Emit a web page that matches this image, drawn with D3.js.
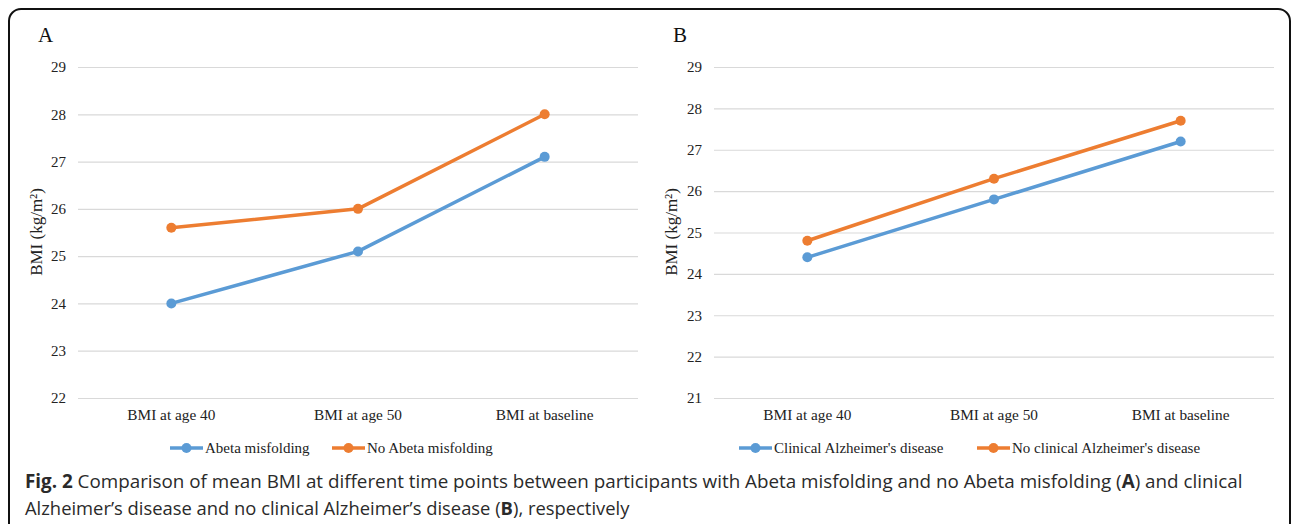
<!DOCTYPE html>
<html>
<head>
<meta charset="utf-8">
<script src="https://cdn.jsdelivr.net/npm/d3@7"></script>
<style>
  html, body { margin: 0; padding: 0; background: #fff; }
  svg { display: block; }
</style>
</head>
<body>
<svg id="chart" width="1292" height="524"></svg>
<script>
// ---- Data ----
const categories = ["BMI at age 40", "BMI at age 50", "BMI at baseline"];

const panelALabel = "A";
const panelASeriesNames = ["Abeta misfolding", "No Abeta misfolding"];
const panelAValues1 = [24.0, 25.1, 27.1];
const panelAValues2 = [25.6, 26.0, 28.0];
const panelATicks = [22, 23, 24, 25, 26, 27, 28, 29];

const panelBLabel = "B";
const panelBSeriesNames = ["Clinical Alzheimer's disease", "No clinical Alzheimer's disease"];
const panelBValues1 = [24.4, 25.8, 27.2];
const panelBValues2 = [24.8, 26.3, 27.7];
const panelBTicks = [21, 22, 23, 24, 25, 26, 27, 28, 29];

const yTitle = "BMI (kg/m²)";
const captionBold = "Fig. 2";
const captionLine1 = " Comparison of mean BMI at different time points between participants with Abeta misfolding and no Abeta misfolding (";
const captionLine1b = ") and clinical";
const captionLine2a = "Alzheimer\u2019s disease and no clinical Alzheimer\u2019s disease (";
const captionLine2b = "), respectively";

const colors = ["#5B9BD5", "#ED7D31"];

// ---- Drawing ----
const svg = d3.select("#chart");
const serif = "'Liberation Serif', 'Times New Roman', serif";

// frame
svg.append("rect")
  .attr("x", 9).attr("y", 9).attr("width", 1281).attr("height", 700)
  .attr("rx", 12).attr("ry", 12)
  .attr("fill", "none").attr("stroke", "#111").attr("stroke-width", 2);

function drawPanel(opts) {
  const g = svg.append("g");
  const x = d3.scaleBand().domain(categories).range([opts.left, opts.left + 560]);
  const y = d3.scaleLinear().domain([opts.ticks[0], opts.ticks[opts.ticks.length - 1]]).range([398, 67]);

  // gridlines via axis
  const yAxis = d3.axisLeft(y).tickValues(opts.ticks).tickSize(-560).tickPadding(12).tickFormat(d3.format("d"));
  const ya = g.append("g").attr("transform", `translate(${opts.left},0)`).call(yAxis);
  ya.select(".domain").remove();
  ya.selectAll(".tick line").attr("stroke", "#d9d9d9").attr("stroke-width", 1.2);
  ya.selectAll(".tick text").attr("font-family", serif).attr("font-size", 15).attr("fill", "#222");

  // x axis labels
  const xAxis = d3.axisBottom(x).tickSize(0).tickPadding(11);
  const xa = g.append("g").attr("transform", `translate(0,398)`).call(xAxis);
  xa.select(".domain").remove();
  xa.selectAll(".tick text").attr("font-family", serif).attr("font-size", 15.3).attr("fill", "#222");

  // panel label
  g.append("text").attr("x", opts.labelX).attr("y", 42)
    .attr("font-family", serif).attr("font-size", 21).attr("fill", "#111").text(opts.label);

  // y title
  g.append("text")
    .attr("transform", `translate(${opts.titleX},232) rotate(-90)`)
    .attr("text-anchor", "middle")
    .attr("font-family", serif).attr("font-size", 17).attr("fill", "#222")
    .text(yTitle);

  const line = d3.line().x((d, i) => x(categories[i]) + x.bandwidth() / 2).y(d => y(d));
  opts.series.forEach((vals, si) => {
    g.append("path").datum(vals).attr("d", line)
      .attr("fill", "none").attr("stroke", colors[si]).attr("stroke-width", 3.5)
      .attr("stroke-linejoin", "round");
    g.selectAll(null).data(vals).enter().append("circle")
      .attr("cx", (d, i) => x(categories[i]) + x.bandwidth() / 2)
      .attr("cy", d => y(d)).attr("r", 5).attr("fill", colors[si]);
  });

  // legend
  opts.names.forEach((name, si) => {
    const lx = opts.legendX[si];
    const ly = 448;
    g.append("line").attr("x1", lx).attr("x2", lx + 33).attr("y1", ly).attr("y2", ly)
      .attr("stroke", colors[si]).attr("stroke-width", 3.5);
    g.append("circle").attr("cx", lx + 16.5).attr("cy", ly).attr("r", 5).attr("fill", colors[si]);
    g.append("text").attr("x", lx + 35).attr("y", ly + 5)
      .attr("font-family", serif).attr("font-size", 15).attr("fill", "#222").text(name);
  });
}

drawPanel({
  left: 78, ticks: panelATicks, label: panelALabel, labelX: 38, titleX: 42,
  series: [panelAValues1, panelAValues2], names: panelASeriesNames, legendX: [170, 332]
});
drawPanel({
  left: 714, ticks: panelBTicks, label: panelBLabel, labelX: 673, titleX: 677,
  series: [panelBValues1, panelBValues2], names: panelBSeriesNames, legendX: [739, 977]
});

// caption
const sans = "'Open Sans', 'Noto Sans', sans-serif";
const cap1 = svg.append("text").attr("x", 25).attr("y", 488)
  .attr("font-family", sans).attr("font-size", 18.5).attr("fill", "#2a2a2a");
cap1.append("tspan").attr("font-weight", "bold").text(captionBold);
cap1.append("tspan").text(captionLine1);
cap1.append("tspan").attr("font-weight", "bold").text("A");
cap1.append("tspan").text(captionLine1b);

const cap2 = svg.append("text").attr("x", 25).attr("y", 515)
  .attr("font-family", sans).attr("font-size", 18.5).attr("fill", "#2a2a2a");
cap2.append("tspan").text(captionLine2a);
cap2.append("tspan").attr("font-weight", "bold").text("B");
cap2.append("tspan").text(captionLine2b);

// fit caption widths to reference
function fit(t, target) {
  const w = t.node().getComputedTextLength();
  const fs = 18.5 * target / w;
  t.attr("font-size", fs.toFixed(2));
}
fit(cap1, 1218);
fit(cap2, 605);
</script>
</body>
</html>
